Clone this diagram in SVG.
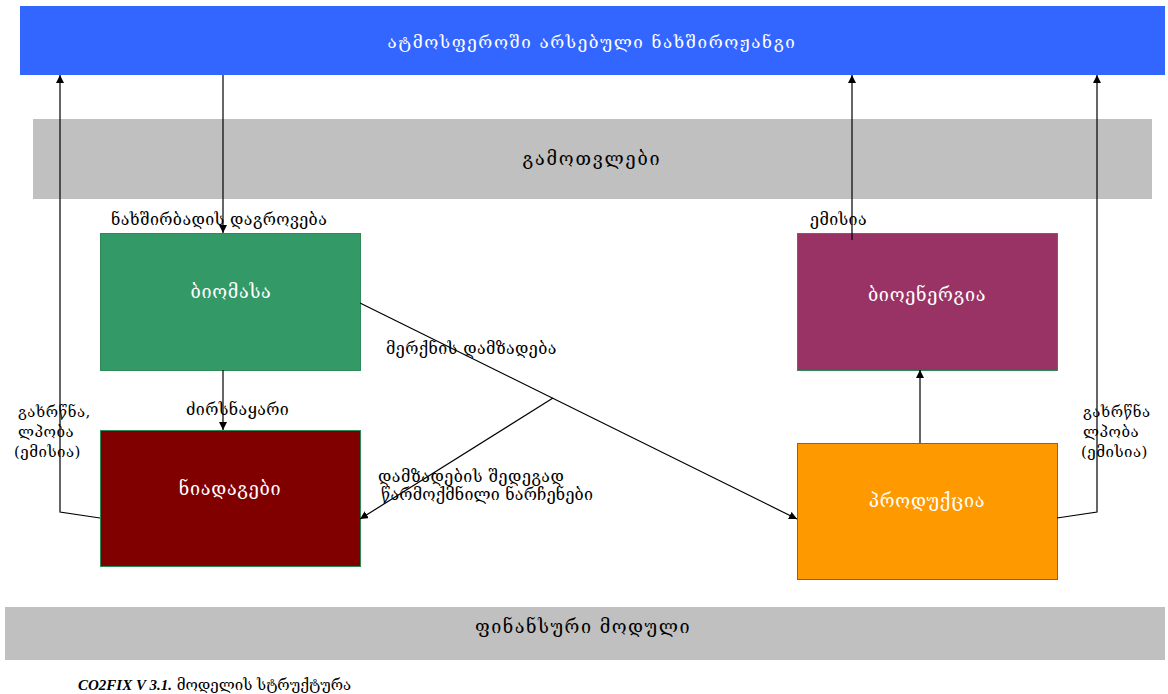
<svg xmlns="http://www.w3.org/2000/svg" width="1168" height="694" viewBox="0 0 1168 694">
<defs>
<marker id="ah" viewBox="0 0 10 10" refX="10" refY="5" markerWidth="8" markerHeight="8" markerUnits="userSpaceOnUse" orient="auto">
<path d="M0,0 L10,5 L0,10 z" fill="#000"/>
</marker>
<style>
.t{font-family:"DejaVu Serif","DejaVu Sans",serif;}
.w{fill:#fff;font-size:18px;text-anchor:middle;letter-spacing:0.7px;}
.k{fill:#000;font-size:16px;letter-spacing:0.4px;}
.s{fill:#000;font-size:15px;letter-spacing:0.5px;}
.bar{fill:#c0c0c0;}
.box{stroke:#2e8b57;stroke-width:1;}
.c{stroke:#000;stroke-width:1.2;fill:none;}
</style>
</defs>
<rect width="1168" height="694" fill="#fff"/>
<g id="atmosphere">
<rect x="20" y="6" width="1145" height="69" fill="#3366ff"/>
<text class="t" x="592" y="48" fill="#fff" font-size="17" text-anchor="middle" letter-spacing="1.6">ატმოსფეროში არსებული ნახშიროჟანგი</text>
</g>
<g id="calculations">
<rect class="bar" x="33" y="119" width="1119" height="80"/>
<text class="t" x="592" y="165" text-anchor="middle" font-size="18" letter-spacing="1.8">გამოთვლები</text>
</g>
<g id="biomass">
<rect class="box" x="100.5" y="233.5" width="260" height="137" fill="#339966"/>
<text class="t w" x="231" y="298">ბიომასა</text>
</g>
<g id="soils">
<rect class="box" x="100.5" y="430.5" width="260" height="136" fill="#800000"/>
<text class="t w" x="230" y="495">ნიადაგები</text>
</g>
<g id="bioenergy">
<rect class="box" x="797.5" y="233.5" width="260" height="137" fill="#993366"/>
<text class="t w" x="927" y="301">ბიოენერგია</text>
</g>
<g id="products">
<rect class="box" x="797.5" y="443.5" width="260" height="136" fill="#ff9900"/>
<text class="t w" x="927" y="507">პროდუქცია</text>
</g>
<g id="finance">
<rect class="bar" x="5" y="607" width="1160" height="53"/>
<text class="t" x="583" y="633" text-anchor="middle" font-size="18" letter-spacing="1.5">ფინანსური მოდული</text>
</g>
<g id="connectors">
<line class="c" x1="223" y1="75" x2="223" y2="233" marker-end="url(#ah)"/>
<line class="c" x1="223" y1="370" x2="223" y2="430" marker-end="url(#ah)"/>
<polyline class="c" points="100,518 60,512 60,75" marker-end="url(#ah)"/>
<polyline class="c" points="1057,518 1097,512 1097,75" marker-end="url(#ah)"/>
<line class="c" x1="852" y1="240" x2="852" y2="75" marker-end="url(#ah)"/>
<line class="c" x1="920" y1="443" x2="920" y2="370" marker-end="url(#ah)"/>
<line class="c" x1="360" y1="303" x2="797" y2="519" marker-end="url(#ah)"/>
<line class="c" x1="553" y1="398" x2="360" y2="519" marker-end="url(#ah)"/>
</g>
<g id="labels">
<text class="t k" x="111" y="225" letter-spacing="0.2">ნახშირბადის დაგროვება</text>
<text class="t k" x="810" y="225">ემისია</text>
<text class="t k" x="386" y="354">მერქნის დამზადება</text>
<text class="t k" x="186" y="415" letter-spacing="0">ძირსნაყარი</text>
<text class="t s"><tspan x="18" y="417">გახრწნა,</tspan><tspan x="18" y="437">ლპობა</tspan><tspan x="14" y="457">(ემისია)</tspan></text>
<text class="t s"><tspan x="1083" y="417">გახრწნა</tspan><tspan x="1083" y="437">ლპობა</tspan><tspan x="1081" y="457">(ემისია)</tspan></text>
<text class="t k"><tspan x="378" y="482" letter-spacing="0.5">დამზადების შედეგად</tspan><tspan x="381" y="500" letter-spacing="0.2">წარმოქმნილი ნარჩენები</tspan></text>
</g>
<g id="caption">
<text class="t" x="78" y="690" font-size="15"><tspan font-family="Liberation Serif,serif" font-weight="bold" font-style="italic">CO2FIX V 3.1.</tspan> მოდელის სტრუქტურა</text>
</g>
</svg>
